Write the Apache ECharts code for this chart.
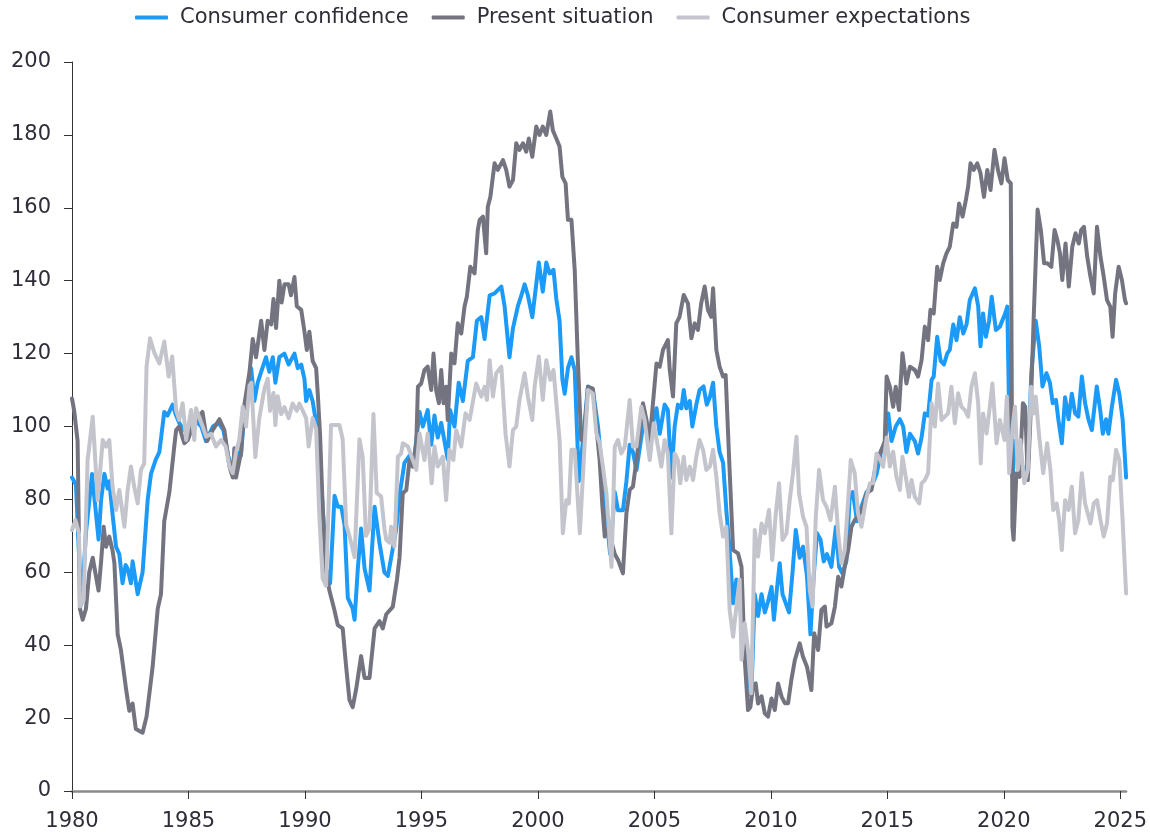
<!DOCTYPE html>
<html>
<head>
<meta charset="utf-8">
<script src="https://cdn.jsdelivr.net/npm/echarts@6/dist/echarts.min.js"></script>
<style>
html,body{margin:0;padding:0;background:#fff;}
#chart{width:1150px;height:838px;}
</style>
</head>
<body>
<div id="chart"></div>
<script>
const seriesNames = ['Consumer confidence', 'Present situation', 'Consumer expectations'];
const tickYears = [1980, 1985, 1990, 1995, 2000, 2005, 2010, 2015, 2020, 2025];
const yTicks = [0, 20, 40, 60, 80, 100, 120, 140, 160, 180, 200];

// [year, index value]
const consumerConfidence = [
[1980.00,86],[1980.17,84],[1980.30,65],[1980.39,51],[1980.50,60],[1980.60,71],[1980.75,80],[1980.86,87],[1981.00,78],[1981.14,69],
[1981.25,80],[1981.39,87],[1981.53,83],[1981.60,85],[1981.74,76],[1981.89,67],[1982.03,65],[1982.17,57],[1982.30,62],[1982.39,61],
[1982.53,57],[1982.60,63],[1982.82,54],[1983.03,60],[1983.25,80],[1983.39,87],[1983.60,91],[1983.75,93],[1983.96,104],[1984.10,103],
[1984.32,106],[1984.47,103],[1984.60,101],[1984.80,99],[1985.00,100],[1985.20,102],[1985.40,101],[1985.55,100],[1985.75,96],[1985.90,98],
[1986.05,100],[1986.30,101],[1986.50,99],[1986.70,92],[1986.85,89],[1987.00,88],[1987.10,93],[1987.25,92],[1987.40,104],[1987.55,110],
[1987.69,116],[1987.83,107],[1987.97,112],[1988.12,115],[1988.33,119],[1988.47,115],[1988.62,119],[1988.73,112],[1988.90,119],[1989.12,120],
[1989.30,117],[1989.55,120],[1989.69,116],[1989.84,117],[1989.98,113],[1990.05,107],[1990.19,110],[1990.33,107],[1990.48,101],[1990.62,93],
[1990.76,78],[1990.91,61],[1991.08,57],[1991.20,72],[1991.27,81],[1991.41,78],[1991.56,78],[1991.70,73],[1991.84,53],[1992.05,50],
[1992.13,47],[1992.27,61],[1992.41,72],[1992.56,61],[1992.77,55],[1992.99,78],[1993.20,68],[1993.41,60],[1993.56,59],[1993.70,64],
[1993.84,69],[1993.92,72],[1994.06,81],[1994.27,90],[1994.49,92],[1994.70,92],[1994.92,104],[1995.06,100],[1995.27,104.5],[1995.42,95],
[1995.56,103],[1995.70,97],[1995.85,101],[1995.99,96],[1996.13,91],[1996.23,104.5],[1996.42,100],[1996.60,112],[1996.78,107],[1996.99,118],
[1997.21,119],[1997.38,129],[1997.57,130],[1997.71,124],[1997.93,136],[1998.14,136.5],[1998.43,138.4],[1998.57,133],[1998.78,119],[1998.93,127],
[1999.14,133],[1999.29,136],[1999.43,139],[1999.57,136],[1999.76,130],[2000.04,145],[2000.21,137],[2000.36,145],[2000.50,142],[2000.67,143],
[2000.79,135],[2000.93,129],[2001.05,113],[2001.15,109],[2001.29,116],[2001.44,119],[2001.58,115.5],[2001.76,85],[2001.93,96],[2002.15,111],
[2002.36,110],[2002.58,100],[2002.72,90],[2002.87,80],[2003.10,65],[2003.30,82],[2003.44,77],[2003.65,77],[2003.80,85],[2003.94,95],
[2004.08,93],[2004.23,88],[2004.44,97],[2004.58,104],[2004.80,92],[2004.97,102],[2005.09,105],[2005.23,98],[2005.44,106],[2005.58,104.5],
[2005.73,86],[2005.87,100],[2006.01,106],[2006.16,105],[2006.26,110],[2006.37,105],[2006.52,107],[2006.63,100],[2006.80,106],[2006.94,110],
[2007.11,111],[2007.25,106],[2007.38,108],[2007.52,112],[2007.66,100],[2007.80,93],[2007.95,90],[2008.09,77],[2008.23,66],[2008.38,51.5],
[2008.52,58],[2008.66,55],[2008.74,45],[2008.88,38],[2009.02,33],[2009.16,26],[2009.31,54],[2009.45,48],[2009.60,54],[2009.74,49],
[2009.88,52],[2010.03,56],[2010.13,47],[2010.27,56],[2010.38,62.5],[2010.50,54],[2010.64,51.5],[2010.78,49],[2010.93,60],[2011.07,71.6],
[2011.24,64],[2011.38,67],[2011.55,59],[2011.70,43],[2011.84,59],[2011.98,70.7],[2012.13,69],[2012.27,63],[2012.41,65],[2012.60,61.5],
[2012.79,72.5],[2012.93,61.5],[2013.07,59.7],[2013.24,63],[2013.38,80],[2013.52,82],[2013.70,74],[2013.89,78],[2014.11,82],[2014.32,83.5],
[2014.54,87],[2014.75,93.6],[2014.89,95.4],[2015.04,103.6],[2015.18,96],[2015.36,100],[2015.54,102],[2015.68,100],[2015.82,93],[2015.97,98],
[2016.18,96],[2016.32,92.6],[2016.47,97],[2016.61,103.6],[2016.75,103],[2016.90,112.8],[2016.99,113.7],[2017.14,124.6],[2017.29,118],[2017.43,117],
[2017.57,120],[2017.68,121],[2017.83,128],[2017.97,123.7],[2018.11,130],[2018.26,125.5],[2018.40,128],[2018.54,134.7],[2018.76,137.9],[2018.90,133],
[2019.00,122],[2019.11,131],[2019.23,124.6],[2019.37,129],[2019.48,135.6],[2019.66,126.5],[2019.83,127.4],[2020.06,131],[2020.15,132.9],[2020.26,92],
[2020.38,86],[2020.48,96],[2020.57,92.6],[2020.69,92.6],[2020.83,88],[2020.94,87],[2021.05,90.8],[2021.18,114.6],[2021.37,129],[2021.52,122],
[2021.66,111],[2021.83,114.6],[2021.98,112],[2022.10,106.4],[2022.24,107.3],[2022.34,102],[2022.49,95.4],[2022.63,108],[2022.78,102],[2022.92,109],
[2023.06,103.6],[2023.20,102.7],[2023.35,113.7],[2023.49,106.4],[2023.63,102],[2023.78,99],[2023.99,111],[2024.14,104.5],[2024.25,98],[2024.39,102],
[2024.49,98],[2024.64,105.4],[2024.82,112.8],[2024.96,109],[2025.10,102],[2025.25,86]
];

const presentSituation = [
[1980.00,107.7],[1980.10,104],[1980.24,96],[1980.34,50],[1980.46,47],[1980.60,50],[1980.74,60],[1980.89,64],[1981.00,60],[1981.14,55],
[1981.25,63],[1981.36,72.5],[1981.46,67],[1981.60,69.8],[1981.74,66],[1981.82,62.5],[1981.96,43],[1982.10,38.7],[1982.32,28],[1982.46,22],
[1982.60,24],[1982.74,17],[1982.88,16.5],[1983.03,16],[1983.20,20.4],[1983.46,34],[1983.68,50],[1983.82,54],[1983.96,74],[1984.18,82],
[1984.39,94.5],[1984.47,99],[1984.60,100],[1984.82,95.4],[1984.97,96.3],[1985.18,100],[1985.47,103],[1985.60,104],[1985.80,96],[1986.04,99],
[1986.33,102],[1986.54,99],[1986.76,89],[1986.90,86],[1986.97,94],[1987.04,86],[1987.26,93],[1987.40,106],[1987.62,115],[1987.76,124],
[1987.90,119],[1988.12,129],[1988.26,121],[1988.40,129],[1988.55,128],[1988.65,135],[1988.76,127],[1988.90,140],[1989.00,134],[1989.12,139],
[1989.30,139],[1989.40,136],[1989.55,141],[1989.65,133],[1989.84,132],[1989.98,126],[1990.08,121],[1990.19,126],[1990.33,118],[1990.48,116],
[1990.55,109],[1990.65,97.5],[1990.76,78],[1990.91,60],[1991.05,55],[1991.27,49.5],[1991.41,45.5],[1991.62,44.6],[1991.77,34],[1991.91,25],
[1992.05,23],[1992.20,28],[1992.41,37],[1992.56,31],[1992.77,31],[1992.99,44.6],[1993.20,46.6],[1993.34,44.6],[1993.49,48.5],[1993.77,50.5],
[1993.95,58],[1994.06,64],[1994.20,81.7],[1994.35,82.6],[1994.49,90.8],[1994.63,89],[1994.78,95.4],[1994.85,110.9],[1994.99,111.8],[1995.13,115.5],
[1995.27,116.4],[1995.42,110],[1995.52,120],[1995.63,110],[1995.75,106.4],[1995.85,115.5],[1995.95,106.4],[1996.06,110.9],[1996.13,101.8],[1996.28,120],
[1996.42,117.3],[1996.56,128.3],[1996.71,125.5],[1996.85,132.9],[1996.95,135.6],[1997.10,143.8],[1997.28,142],[1997.42,153.9],[1997.50,156.7],[1997.64,157.6],
[1997.78,147.5],[1997.85,160.3],[1997.96,163],[1998.14,172.2],[1998.28,170.4],[1998.50,173.1],[1998.64,170.4],[1998.78,165.8],[1998.93,167.6],[1999.07,177.7],
[1999.21,175.9],[1999.36,177.7],[1999.50,175.4],[1999.61,179],[1999.76,174],[1999.93,182.3],[2000.07,180],[2000.21,182.3],[2000.36,180],[2000.53,186.4],
[2000.64,181.3],[2000.79,179],[2000.93,176.8],[2001.05,168.5],[2001.19,166.7],[2001.29,156.7],[2001.44,156.7],[2001.58,143],[2001.72,117.3],[2001.86,96.3],
[2002.00,98.1],[2002.15,110.9],[2002.36,110.4],[2002.51,100],[2002.65,90.8],[2002.77,78],[2002.87,69.8],[2003.00,72],[2003.30,65],[2003.44,63.4],
[2003.65,59.7],[2003.80,76.2],[2003.94,82.6],[2004.08,83.5],[2004.23,90.8],[2004.37,98.1],[2004.51,106.4],[2004.66,101.8],[2004.80,96.3],[2004.94,106.4],
[2005.09,117.3],[2005.23,116.4],[2005.37,121],[2005.58,123.7],[2005.66,115.5],[2005.80,108.2],[2005.94,128.3],[2006.08,130.1],[2006.26,136.1],[2006.44,133.8],
[2006.59,124.2],[2006.73,128.3],[2006.87,126.5],[2007.01,133.8],[2007.16,138.4],[2007.30,132],[2007.44,130.1],[2007.52,137.9],[2007.66,121],[2007.80,116.4],
[2007.95,113.7],[2008.06,114.1],[2008.23,88],[2008.38,66.1],[2008.59,65.2],[2008.74,61.5],[2008.88,36],[2009.02,22.2],[2009.12,23],[2009.24,29],
[2009.35,29.5],[2009.45,24],[2009.60,26],[2009.74,21.3],[2009.88,20.4],[2010.03,25.4],[2010.17,22.2],[2010.31,29.5],[2010.46,25.9],[2010.60,24.1],
[2010.74,24.1],[2010.88,30.5],[2011.03,35.9],[2011.24,40.5],[2011.38,36.8],[2011.55,34.1],[2011.74,27.7],[2011.86,43.3],[2012.03,38.7],[2012.17,49.7],
[2012.32,50.6],[2012.39,45.1],[2012.60,46],[2012.75,50.6],[2012.89,58.8],[2013.03,56.1],[2013.17,61.5],[2013.32,66.1],[2013.46,72.5],[2013.60,74.3],
[2013.82,76.2],[2013.96,78],[2014.11,81.7],[2014.32,82.6],[2014.54,90.8],[2014.75,93.6],[2014.89,96],[2014.97,113.7],[2015.11,110.9],[2015.25,105.4],
[2015.36,110.9],[2015.50,104.5],[2015.65,120.1],[2015.82,111.8],[2015.97,116.4],[2016.18,115.5],[2016.32,113.7],[2016.47,118.2],[2016.61,127.4],[2016.75,123.7],
[2016.85,132],[2016.99,131],[2017.14,143.8],[2017.25,140.2],[2017.40,144.8],[2017.54,147.5],[2017.68,149.3],[2017.83,155.7],[2017.97,154.8],[2018.08,161.2],
[2018.23,157.6],[2018.37,162.1],[2018.47,165.8],[2018.57,172.2],[2018.71,170.4],[2018.86,172.2],[2019.00,169.5],[2019.15,163],[2019.29,170.4],[2019.43,164.9],
[2019.60,175.9],[2019.75,170.4],[2019.90,166.7],[2020.03,173.6],[2020.17,167.6],[2020.30,166.7],[2020.37,72.5],[2020.42,68.9],[2020.54,87.2],[2020.68,86.2],
[2020.82,106.4],[2020.92,105.4],[2021.03,85.3],[2021.14,101.8],[2021.28,129.2],[2021.45,159.5],[2021.59,153.9],[2021.73,144.8],[2021.87,144.8],[2022.04,143.8],
[2022.18,153.9],[2022.30,151.1],[2022.41,147.5],[2022.51,140.2],[2022.65,150.2],[2022.79,138.4],[2022.94,149.3],[2023.08,153],[2023.22,150.2],[2023.32,153.9],
[2023.44,154.8],[2023.58,146.6],[2023.72,141.1],[2023.86,136.5],[2024.00,154.8],[2024.15,146.6],[2024.29,141.1],[2024.43,134.7],[2024.57,132.9],[2024.67,124.6],
[2024.78,136.5],[2024.93,143.8],[2025.07,140.2],[2025.20,134.7],[2025.25,133.8]
];

const consumerExpectations = [
[1980.00,71.6],[1980.15,74.3],[1980.30,70.7],[1980.34,50.6],[1980.50,52.4],[1980.67,90.8],[1980.89,102.7],[1981.10,79.8],[1981.32,96.3],[1981.46,94.5],
[1981.60,96.3],[1981.74,83.5],[1981.89,77.1],[1982.03,82.6],[1982.25,72.5],[1982.39,82.6],[1982.53,89],[1982.67,83.5],[1982.82,78.9],[1982.96,88.1],
[1983.10,89.9],[1983.20,116.4],[1983.35,124.2],[1983.54,120.1],[1983.75,117.3],[1983.96,123.3],[1984.15,113.7],[1984.30,119.2],[1984.47,104.5],[1984.60,101.8],
[1984.75,106.4],[1984.90,96.3],[1985.11,104.5],[1985.25,96.3],[1985.32,105],[1985.61,100],[1985.76,97.2],[1985.97,98],[1986.18,94.5],[1986.40,96.3],
[1986.60,94.5],[1986.76,89],[1986.90,87.2],[1987.04,93],[1987.18,96.3],[1987.33,105.4],[1987.47,100],[1987.62,111.2],[1987.70,112],[1987.87,91.6],
[1988.04,102.3],[1988.26,110.3],[1988.40,113.1],[1988.50,104.3],[1988.65,109.2],[1988.73,100.4],[1988.83,108.3],[1988.98,103.4],[1989.12,105.3],[1989.30,102.3],
[1989.47,106.3],[1989.65,104.3],[1989.76,106.3],[1989.91,104.3],[1990.05,102.3],[1990.16,94.5],[1990.33,102.3],[1990.48,99.4],[1990.62,74.9],[1990.76,58.3],
[1990.91,56.3],[1991.12,100.4],[1991.34,100.4],[1991.48,100.4],[1991.62,96.5],[1991.77,73],[1991.91,70],[1992.13,64.2],[1992.34,96.5],[1992.48,91.6],
[1992.62,70],[1992.77,72],[1992.94,103.4],[1993.08,81.8],[1993.27,80.8],[1993.41,72],[1993.49,68.9],[1993.63,68.1],[1993.70,72.5],[1993.84,67],
[1993.99,91.7],[1994.13,92.6],[1994.20,95.4],[1994.42,94.5],[1994.63,90.8],[1994.78,88.1],[1994.92,98.1],[1995.13,90.8],[1995.27,98.1],[1995.44,84.4],
[1995.56,94.5],[1995.70,89],[1995.92,91.7],[1996.06,79.8],[1996.20,93.6],[1996.37,90.8],[1996.49,99],[1996.71,94.5],[1996.89,103.6],[1997.07,101.8],
[1997.35,111.8],[1997.57,108.2],[1997.71,110.9],[1997.81,107.3],[1997.93,118.2],[1998.07,108.2],[1998.21,114.6],[1998.43,116.4],[1998.61,98.1],[1998.78,89],
[1998.93,99],[1999.07,100],[1999.21,107.3],[1999.43,114.6],[1999.57,108.2],[1999.76,101.8],[1999.86,110.9],[2000.04,119.2],[2000.21,107.3],[2000.36,118.2],
[2000.53,112.8],[2000.67,115.5],[2000.93,96.3],[2001.07,70.7],[2001.22,79.8],[2001.33,78.9],[2001.44,93.6],[2001.58,93.6],[2001.80,70.7],[2002.00,94.5],
[2002.15,110],[2002.36,109],[2002.51,98.1],[2002.65,95.4],[2002.79,89],[2002.94,81.7],[2003.16,61.5],[2003.30,94.5],[2003.44,96.3],[2003.58,92.6],
[2003.73,94.5],[2003.94,107.3],[2004.08,94.5],[2004.23,94.5],[2004.44,105.4],[2004.58,101.8],[2004.80,90.8],[2004.97,100.9],[2005.15,94.5],[2005.30,89],
[2005.44,96.3],[2005.58,92.6],[2005.73,70.7],[2005.87,92.6],[2006.01,90.8],[2006.11,84.4],[2006.26,91.7],[2006.37,85.3],[2006.52,89],[2006.66,85.3],
[2006.80,91.7],[2006.94,96.3],[2007.09,93.6],[2007.23,88.1],[2007.38,89],[2007.52,93.6],[2007.66,86.2],[2007.80,76.2],[2007.95,69.8],[2008.09,72.5],
[2008.23,49.7],[2008.38,42.3],[2008.52,50.6],[2008.66,58],[2008.74,36],[2008.88,46],[2009.02,38.7],[2009.16,26.8],[2009.31,71.6],[2009.45,64.3],
[2009.60,73.4],[2009.74,70.7],[2009.92,77.1],[2010.06,63.4],[2010.20,75.3],[2010.35,84.4],[2010.50,68.9],[2010.67,70.7],[2010.81,79.8],[2010.95,87.2],
[2011.10,97.2],[2011.21,81.7],[2011.38,75.3],[2011.53,72.5],[2011.67,55.1],[2011.79,50.6],[2011.93,75.3],[2012.07,88.1],[2012.24,79.8],[2012.39,78],
[2012.56,74.3],[2012.75,83.5],[2012.89,70.7],[2013.03,62.5],[2013.17,66.1],[2013.32,79.8],[2013.43,90.8],[2013.60,87.2],[2013.74,76.2],[2013.89,72.5],
[2014.08,79.8],[2014.25,84.4],[2014.39,84.4],[2014.54,92.6],[2014.68,91],[2014.82,89],[2014.97,97],[2015.11,89],[2015.25,93.1],[2015.39,86.2],
[2015.54,82.6],[2015.65,91.7],[2015.79,86.2],[2015.93,80.7],[2016.04,85.3],[2016.18,80.7],[2016.37,78.9],[2016.47,84.4],[2016.61,85.3],[2016.75,87.2],
[2016.90,106.4],[2017.04,100],[2017.18,111.8],[2017.33,101.8],[2017.47,102.7],[2017.61,103.6],[2017.75,110.9],[2017.90,100.9],[2018.04,109.1],[2018.18,105.4],
[2018.33,104.5],[2018.47,102.7],[2018.61,110.9],[2018.76,114.6],[2018.90,106.4],[2019.01,89.9],[2019.11,103.6],[2019.26,98.1],[2019.40,105.4],[2019.51,111.8],
[2019.69,95.4],[2019.83,101.8],[2020.03,96.3],[2020.13,108.2],[2020.23,87.2],[2020.38,100],[2020.48,105.4],[2020.60,88.1],[2020.71,96.3],[2020.88,84.4],
[2021.03,88.1],[2021.17,110.9],[2021.28,103.6],[2021.37,108.2],[2021.52,97.2],[2021.69,87.2],[2021.86,95.4],[2022.00,88.1],[2022.12,77.1],[2022.27,78.9],
[2022.38,74.3],[2022.49,66.1],[2022.63,79.8],[2022.78,77.1],[2022.92,83.5],[2023.06,70.7],[2023.20,74.3],[2023.35,87.2],[2023.49,78.9],[2023.72,73.4],
[2023.86,78.9],[2024.00,79.8],[2024.15,74.3],[2024.29,69.8],[2024.43,73.4],[2024.57,86.2],[2024.68,85.3],[2024.82,93.6],[2024.96,90.8],[2025.10,74.3],
[2025.25,54.2]
];

const colors = ['#1b9bf7', '#747480', '#c4c4cd'];
const allData = [consumerConfidence, presentSituation, consumerExpectations];
const FONT = 'DejaVu Sans';
const TEXT = '#2e2e38';

const chart = echarts.init(document.getElementById('chart'), null, {renderer: 'canvas'});
chart.setOption({
  animation: false,
  backgroundColor: '#ffffff',
  color: colors,
  legend: {
    data: seriesNames,
    top: 7,
    left: 135,
    padding: 0,
    itemWidth: 33,
    itemHeight: 4,
    itemGap: 23,
    icon: 'roundRect',
    textStyle: {fontFamily: FONT, fontSize: 21, color: TEXT, padding: [0, 0, 0, 7]}
  },
  grid: {left: 72, right: 23, top: 62, bottom: 47, containLabel: false},
  xAxis: {
    type: 'value',
    min: 1980,
    max: 2025.25,
    axisLine: {show: true, lineStyle: {color: '#8a8a8a', width: 2.5}},
    axisTick: {show: true, customValues: tickYears, length: 8, lineStyle: {color: '#333333', width: 1}},
    axisLabel: {customValues: tickYears, formatter: v => String(Math.round(v)), fontFamily: FONT, fontSize: 21, color: TEXT, margin: 20},
    splitLine: {show: false}
  },
  yAxis: {
    type: 'value',
    min: yTicks[0],
    max: yTicks[yTicks.length - 1],
    interval: 20,
    axisLine: {show: true, lineStyle: {color: '#333333', width: 1}},
    axisTick: {show: true, length: 8, lineStyle: {color: '#333333', width: 1}},
    axisLabel: {fontFamily: FONT, fontSize: 21, color: TEXT, margin: 21},
    splitLine: {show: false}
  },
  series: seriesNames.map((name, i) => ({
    name: name,
    type: 'line',
    data: allData[i],
    showSymbol: false,
    symbol: 'none',
    lineStyle: {width: 4, color: colors[i], cap: 'round', join: 'round'},
    itemStyle: {color: colors[i]}
  }))
});
</script>
</body>
</html>
